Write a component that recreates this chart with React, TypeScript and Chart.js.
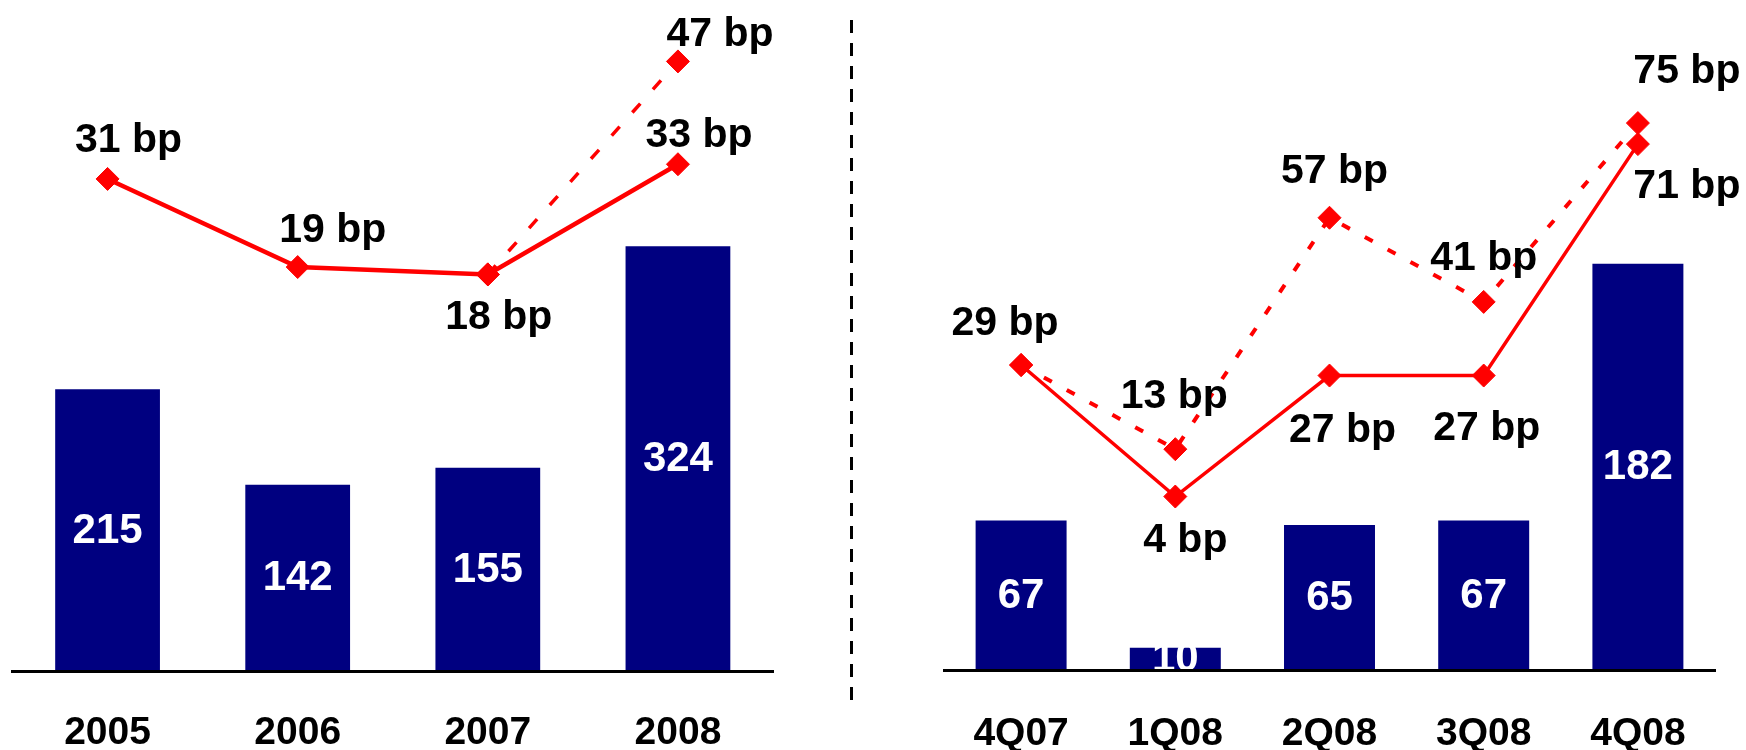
import React, { useEffect, useRef } from "react";
import { Chart, registerables } from "chart.js";

Chart.register(...registerables);

// ---------- data ----------
const yearLabels = ["2005", "2006", "2007", "2008"];
const yearVolumes = [215, 142, 155, 324];
const yearSpreadSolid = [31, 19, 18, 33];
const yearSpreadDashed: (number | null)[] = [null, null, 18, 47];

const quarterLabels = ["4Q07", "1Q08", "2Q08", "3Q08", "4Q08"];
const quarterVolumes = [67, 10, 65, 67, 182];
const quarterSpreadSolid = [29, 4, 27, 27, 71];
const quarterSpreadDashed = [29, 13, 57, 41, 75];

// ---------- label placement (offsets from each point, px) ----------
const yearSolidOffsets: ([number, number] | null)[] = [[21, -38], [35, -36], [11, 43], [21, -29]];
const yearDashedOffsets: ([number, number] | null)[] = [null, null, null, [42, -27]];
const quarterSolidOffsets: ([number, number] | null)[] = [[-16, -41], [10, 44], [13, 55], [3, 53], [49, 43]];
const quarterDashedOffsets: ([number, number] | null)[] = [null, [-1, -52], [5, -46], [0, -43], [49, -51]];

const NAVY = "#000080";
const RED = "#FF0000";
const FONT = "'Liberation Sans', Arial, Helvetica, sans-serif";

type PanelOpts = {
  labels: string[];
  volumes: number[];
  solid: (number | null)[];
  dashed: (number | null)[];
  solidOffsets: ([number, number] | null)[];
  dashedOffsets: ([number, number] | null)[];
  padding: { left: number; right: number; top: number; bottom: number };
  catLabelGap: number;
  barPct: number;
  barMax: number;
  lineMin: number;
  lineMax: number;
  solidWidth: number;
  dashedWidth: number;
  dash: number[];
  separator: boolean;
};

function makeLabelPlugin(o: PanelOpts) {
  return {
    id: "valueLabels",
    afterDatasetsDraw(chart: any) {
      const ctx = chart.ctx as CanvasRenderingContext2D;
      ctx.save();
      ctx.textAlign = "center";
      ctx.textBaseline = "middle";
      // bar values
      const barMeta = chart.getDatasetMeta(2);
      ctx.fillStyle = "#FFFFFF";
      ctx.font = `bold 42px ${FONT}`;
      barMeta.data.forEach((el: any, i: number) => {
        const cy = (el.y + el.base) / 2;
        ctx.fillText(String(o.volumes[i]), el.x, cy + 1);
      });
      // line labels
      ctx.fillStyle = "#000000";
      ctx.font = `bold 41px ${FONT}`;
      const drawFor = (dsIndex: number, values: (number | null)[], offs: ([number, number] | null)[]) => {
        const meta = chart.getDatasetMeta(dsIndex);
        meta.data.forEach((el: any, i: number) => {
          const off = offs[i];
          const v = values[i];
          if (!off || v === null || v === undefined) return;
          ctx.fillText(`${v} bp`, el.x + off[0], el.y + off[1]);
        });
      };
      drawFor(0, o.solid, o.solidOffsets);
      drawFor(1, o.dashed, o.dashedOffsets);
      // category labels under the axis
      const xs = chart.scales.x;
      const bottom = chart.chartArea.bottom;
      ctx.font = `bold 39px ${FONT}`;
      o.labels.forEach((lab, i) => {
        ctx.fillText(lab, xs.getPixelForValue(i), bottom + o.catLabelGap);
      });
      ctx.restore();
    },
    afterDraw(chart: any) {
      if (!o.separator) return;
      const ctx = chart.ctx as CanvasRenderingContext2D;
      ctx.save();
      ctx.strokeStyle = "#000000";
      ctx.lineWidth = 3;
      ctx.setLineDash([13, 10]);
      ctx.beginPath();
      ctx.moveTo(851.5, 20);
      ctx.lineTo(851.5, 708);
      ctx.stroke();
      ctx.restore();
    },
  };
}

function Panel({ o, width, left }: { o: PanelOpts; width: number; left: number }) {
  const ref = useRef<HTMLCanvasElement | null>(null);
  useEffect(() => {
    if (!ref.current) return;
    const pointStyle = {
      pointStyle: "rectRot",
      pointRadius: 11.5,
      pointBackgroundColor: RED,
      pointBorderColor: RED,
      pointBorderWidth: 1,
      tension: 0,
      fill: false,
      spanGaps: false,
      clip: false,
    };
    const chart = new Chart(ref.current, {
      type: "bar",
      data: {
        labels: o.labels,
        datasets: [
          {
            type: "line",
            data: o.solid,
            yAxisID: "yLine",
            borderColor: RED,
            borderWidth: o.solidWidth,
            backgroundColor: RED,
            ...pointStyle,
            order: 0,
          } as any,
          {
            type: "line",
            data: o.dashed,
            yAxisID: "yLine",
            borderColor: RED,
            borderWidth: o.dashedWidth,
            borderDash: o.dash,
            backgroundColor: RED,
            ...pointStyle,
            order: 1,
          } as any,
          {
            type: "bar",
            data: o.volumes,
            yAxisID: "yBar",
            backgroundColor: NAVY,
            borderWidth: 0,
            barPercentage: o.barPct,
            categoryPercentage: 1,
            order: 2,
          } as any,
        ],
      },
      options: {
        animation: false,
        responsive: false,
        maintainAspectRatio: false,
        devicePixelRatio: 1,
        layout: { padding: o.padding },
        plugins: {
          legend: { display: false },
          tooltip: { enabled: false },
          title: { display: false },
        },
        scales: {
          x: {
            display: true,
            offset: true,
            grid: { display: false, drawTicks: false },
            border: { display: true, color: "#000000", width: 3, z: 1 },
            ticks: { display: false },
          },
          yBar: {
            display: false,
            position: "left",
            min: 0,
            max: o.barMax,
          },
          yLine: {
            display: false,
            position: "right",
            min: o.lineMin,
            max: o.lineMax,
          },
        },
      } as any,
      plugins: [makeLabelPlugin(o)],
    });
    return () => chart.destroy();
  }, []);
  return (
    <canvas
      ref={ref}
      width={width}
      height={750}
      style={{ position: "absolute", left, top: 0, width, height: 750 }}
    />
  );
}

const leftPanel: PanelOpts = {
  labels: yearLabels,
  volumes: yearVolumes,
  solid: yearSpreadSolid,
  dashed: yearSpreadDashed,
  solidOffsets: yearSolidOffsets,
  dashedOffsets: yearDashedOffsets,
  padding: { left: 11, right: 100, top: 10, bottom: 79 },
  catLabelGap: 62,
  barPct: 0.551,
  barMax: 502.3,
  lineMin: -36.0,
  lineMax: 53.66,
  solidWidth: 4.5,
  dashedWidth: 3.5,
  dash: [12, 19],
  separator: true,
};

const rightPanel: PanelOpts = {
  labels: quarterLabels,
  volumes: quarterVolumes,
  solid: quarterSpreadSolid,
  dashed: quarterSpreadDashed,
  solidOffsets: quarterSolidOffsets,
  dashedOffsets: quarterDashedOffsets,
  padding: { left: 71, right: 31, top: 10, bottom: 80 },
  catLabelGap: 64,
  barPct: 0.59,
  barMax: 294.6,
  lineMin: -28.98,
  lineMax: 96.02,
  solidWidth: 3.5,
  dashedWidth: 4,
  dash: [9, 17],
  separator: false,
};

export default function App() {
  return (
    <div
      style={{
        position: "absolute",
        left: 0,
        top: 0,
        width: 1746,
        height: 750,
        background: "#FFFFFF",
        overflow: "hidden",
      }}
    >
      <Panel o={leftPanel} width={873} left={0} />
      <Panel o={rightPanel} width={873} left={873} />
    </div>
  );
}
